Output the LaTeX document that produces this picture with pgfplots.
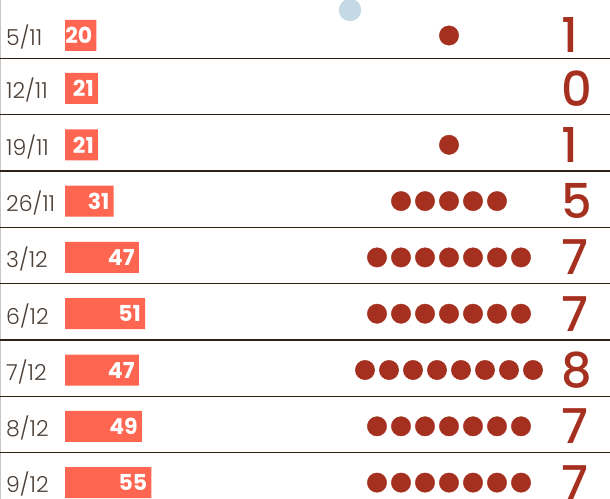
\documentclass[border=0pt]{standalone}
\usepackage{pgfplots}
\pgfplotsset{compat=1.18}
\usepackage{fontspec}
\setmainfont{Poppins}
\newfontfamily\datefont{Poppins Light}
\newfontfamily\numfont{Poppins Medium}
\definecolor{barred}{HTML}{FF6651}
\definecolor{dotred}{HTML}{A5301F}
\definecolor{datecol}{HTML}{4A3F38}
\definecolor{linecol}{HTML}{2E2116}
\definecolor{bluedot}{HTML}{C5D9E5}
\begin{document}
\begin{tikzpicture}
\useasboundingbox (0,0) rectangle (610bp,499bp);
\pgfplotsset{base/.style={width=610bp,height=499bp,scale only axis,hide axis,ymin=0,ymax=499,y dir=reverse,clip=true}}
% bars
\begin{axis}[base, xmin=-41.40, xmax=347.13, /pgf/number format/assume math mode=true]
\addplot[xbar, bar width=31, fill=barred, draw=none, point meta=x,
  nodes near coords={\pgfmathprintnumber[assume math mode=true]{\pgfplotspointmeta}},
  nodes near coords style={anchor=east, xshift=-4bp, text=white, font=\bfseries\fontsize{22bp}{24bp}\selectfont, inner sep=0pt, text depth=0pt}]
  table {
  v y
  20 35.5
  21 88.5
  21 144.8
  31 201.1
  47 257.4
  51 313.7
  47 370
  49 426.3
  55 482.6
  };
\end{axis}
\begin{axis}[base, xmin=0, xmax=610]
\addplot[draw=black!22, line width=1.5bp] coordinates {(0.75,0) (0.75,499)};
\addplot[linecol, line width=1.3bp] coordinates {(0,58.3) (610,58.3)};
\addplot[linecol, line width=1.3bp] coordinates {(0,114.6) (610,114.6)};
\addplot[linecol, line width=1.3bp] coordinates {(0,171.0) (610,171.0)};
\addplot[linecol, line width=1.3bp] coordinates {(0,227.3) (610,227.3)};
\addplot[linecol, line width=1.3bp] coordinates {(0,283.7) (610,283.7)};
\addplot[linecol, line width=1.3bp] coordinates {(0,340.0) (610,340.0)};
\addplot[linecol, line width=1.3bp] coordinates {(0,396.4) (610,396.4)};
\addplot[linecol, line width=1.3bp] coordinates {(0,452.7) (610,452.7)};
\addplot[only marks, mark=*, mark size=11bp, color=bluedot] coordinates {(350,10)};
\addplot[only marks, mark=*, mark size=9.7bp, color=dotred] coordinates {
(449,35.5)
(449,144.8)
(401,201.1) (425,201.1) (449,201.1) (473,201.1) (497,201.1)
(377,257.4) (401,257.4) (425,257.4) (449,257.4) (473,257.4) (497,257.4) (521,257.4)
(377,313.7) (401,313.7) (425,313.7) (449,313.7) (473,313.7) (497,313.7) (521,313.7)
(365,370) (389,370) (413,370) (437,370) (461,370) (485,370) (509,370) (533,370)
(377,426.3) (401,426.3) (425,426.3) (449,426.3) (473,426.3) (497,426.3) (521,426.3)
(377,482.6) (401,482.6) (425,482.6) (449,482.6) (473,482.6) (497,482.6) (521,482.6)
};
\addplot[only marks, mark size=0pt, point meta=explicit symbolic, nodes near coords,
  nodes near coords style={anchor=west, inner sep=0pt, text depth=0pt, text=datecol, font=\datefont\fontsize{22bp}{24bp}\selectfont}]
  table[meta=d] {
  x y d
  6 35.5 5/11
  6 88.5 12/11
  6 144.8 19/11
  6 201.1 26/11
  6 257.4 3/12
  6 313.7 6/12
  6 370 7/12
  6 426.3 8/12
  6 482.6 9/12
  };
\addplot[only marks, mark size=0pt, point meta=explicit symbolic, nodes near coords,
  nodes near coords style={anchor=west, inner sep=0pt, text depth=0pt, text=dotred, font=\numfont\fontsize{48bp}{50bp}\selectfont}]
  table[meta=n] {
  x y n
  561 35.5 1
  561 88.5 0
  561 144.8 1
  561 201.1 5
  561 257.4 7
  561 313.7 7
  561 370 8
  561 426.3 7
  561 482.6 7
  };
\end{axis}
\end{tikzpicture}
\end{document}
